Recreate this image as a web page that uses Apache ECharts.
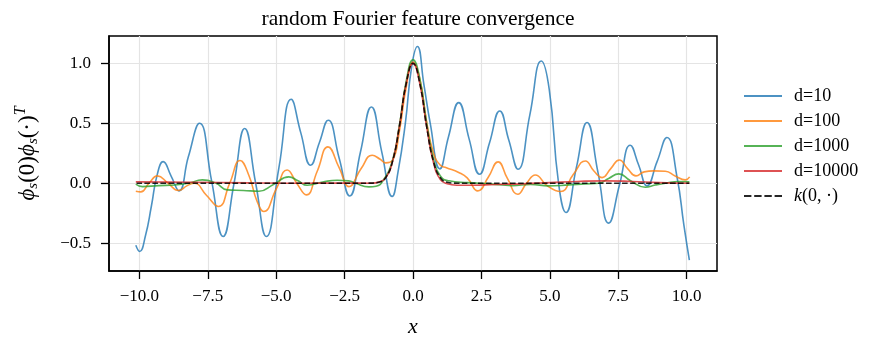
<!DOCTYPE html>
<html><head><meta charset="utf-8">
<script src="https://cdn.jsdelivr.net/npm/echarts@6/dist/echarts.min.js"></script>
<style>html,body{margin:0;padding:0;background:#fff}#c{width:874px;height:338px}</style>
</head><body><div id="c"></div>
<script>
// ---- data ----
const seriesNames = ['d=10', 'd=100', 'd=1000', 'd=10000', 'k(0, ·)'];

const d10 = [[-10.13,-0.517],[-9.99,-0.569],[-9.78,-0.44],[-9.56,-0.19],[-9.35,0.07],[-9.13,0.18],[-8.84,0.06],[-8.55,-0.064],[-8.21,0.22],[-7.80,0.50],[-7.36,0.02],[-6.94,-0.444],[-6.54,0.0],[-6.15,0.456],[-5.75,0.0],[-5.36,-0.444],[-4.90,0.13],[-4.45,0.70],[-4.10,0.42],[-3.74,0.15],[-3.42,0.34],[-3.10,0.525],[-2.70,0.21],[-2.31,-0.106],[-1.92,0.26],[-1.52,0.636],[-1.14,0.26],[-0.76,-0.11],[-0.55,0.09],[-0.28,0.50],[-0.05,0.97],[0.16,1.14],[0.40,0.82],[0.63,0.50],[0.98,0.12],[1.30,0.39],[1.67,0.672],[2.05,0.37],[2.43,0.075],[2.80,0.34],[3.17,0.603],[3.50,0.36],[3.84,0.117],[4.27,0.57],[4.69,1.019],[4.98,0.78],[5.32,0.0],[5.59,-0.244],[5.97,0.13],[6.36,0.506],[6.76,0.09],[7.15,-0.333],[7.55,-0.01],[7.94,0.317],[8.25,0.15],[8.55,-0.022],[8.92,0.18],[9.28,0.381],[9.65,0.05],[9.90,-0.35],[10.10,-0.642]];

const d100 = [[-10.13,-0.067],[-9.95,-0.072],[-9.65,0.0],[-9.34,0.061],[-8.95,0.0],[-8.57,-0.061],[-8.25,-0.02],[-8.00,0.0],[-7.55,-0.10],[-7.11,-0.194],[-6.70,0.0],[-6.32,0.19],[-5.99,0.06],[-5.70,-0.15],[-5.45,-0.236],[-5.00,-0.05],[-4.60,0.111],[-4.25,0.0],[-3.90,-0.097],[-3.50,0.10],[-3.11,0.303],[-2.70,0.13],[-2.34,-0.028],[-1.90,0.12],[-1.49,0.233],[-1.20,0.20],[-1.00,0.17],[-0.75,0.19],[-0.50,0.43],[-0.25,0.80],[0.00,1.01],[0.25,0.87],[0.50,0.51],[0.75,0.25],[1.00,0.15],[1.22,0.13],[1.67,0.09],[1.98,0.045],[2.37,-0.064],[2.75,0.05],[3.11,0.178],[3.45,0.04],[3.83,-0.092],[4.15,0.0],[4.47,0.069],[4.90,-0.02],[5.39,-0.069],[5.85,0.07],[6.30,0.186],[6.62,0.10],[6.91,0.047],[7.22,0.12],[7.54,0.194],[7.85,0.12],[8.15,0.061],[8.45,0.095],[8.80,0.103],[9.22,0.10],[9.58,0.061],[9.95,0.028],[10.11,0.053]];

const d1000 = [[-10.13,-0.008],[-9.89,-0.028],[-9.30,-0.02],[-8.70,-0.015],[-8.20,0.0],[-7.70,0.028],[-7.20,0.0],[-6.79,-0.055],[-6.20,-0.06],[-5.63,-0.067],[-5.10,-0.01],[-4.54,0.053],[-4.20,0.02],[-3.87,-0.017],[-3.30,0.01],[-2.77,0.025],[-2.35,0.02],[-2.10,0.0],[-1.61,-0.03],[-1.35,-0.025],[-1.10,0.02],[-0.75,0.19],[-0.50,0.48],[-0.25,0.85],[0.00,1.03],[0.25,0.87],[0.50,0.50],[0.75,0.20],[1.00,0.06],[1.31,0.02],[2.00,0.005],[2.80,-0.005],[3.62,-0.02],[4.30,-0.01],[4.96,-0.022],[5.69,-0.014],[6.30,-0.005],[6.79,0.0],[7.15,0.04],[7.52,0.078],[7.95,0.02],[8.49,-0.033],[8.85,-0.015],[9.22,0.0],[9.71,0.014],[10.10,0.011]];

const d10000 = [[-10.13,0.011],[-8.00,0.008],[-6.00,0.003],[-4.00,0.0],[-2.50,0.002],[-1.50,0.0],[-1.25,0.01],[-1.00,0.045],[-0.75,0.18],[-0.50,0.47],[-0.25,0.83],[0.00,1.0],[0.25,0.83],[0.50,0.47],[0.75,0.17],[1.00,0.03],[1.25,-0.005],[1.60,-0.017],[2.20,-0.017],[3.00,-0.01],[4.00,-0.005],[5.00,0.005],[6.00,0.015],[7.00,0.02],[8.00,0.015],[9.00,0.005],[10.10,0.0]];

const kernel = [[-10.10,0],[-2.00,0],[-1.50,0.001],[-1.25,0.008],[-1.00,0.046],[-0.75,0.18],[-0.50,0.47],[-0.25,0.83],[0.00,1.0],[0.25,0.83],[0.50,0.47],[0.75,0.18],[1.00,0.046],[1.25,0.008],[1.50,0.001],[2.00,0],[10.10,0]];

const xTicks = [-10, -7.5, -5, -2.5, 0, 2.5, 5, 7.5, 10];
const xTickLabels = ['−10.0', '−7.5', '−5.0', '−2.5', '0.0', '2.5', '5.0', '7.5', '10.0'];
const yTicks = [-0.5, 0, 0.5, 1.0];
const yTickLabels = ['−0.5', '0.0', '0.5', '1.0'];
const xRange = [-11.11, 11.11];
const yRange = [-0.732, 1.228];

// ---- chart ----
const FONT = "'Liberation Serif', 'DejaVu Serif', serif";
const colors = ['rgba(31,119,180,0.8)', 'rgba(255,127,14,0.8)', 'rgba(44,160,44,0.8)', 'rgba(214,39,40,0.8)', 'rgba(0,0,0,0.85)'];
const allData = [d10, d100, d1000, d10000, kernel];
const solidIcon = 'path://M0,0h38v2h-38z';
const dashIcon = 'path://M0,0h7.4v2h-7.4z M10.2,0h7.4v2h-7.4z M20.4,0h7.4v2h-7.4z M30.6,0h7.4v2h-7.4z';

const chart = echarts.init(document.getElementById('c'), null, {renderer: 'canvas'});
const axisCommon = {
  axisLine: {show: true, onZero: false, lineStyle: {color: '#000', width: 1.5}},
  splitLine: {show: true, lineStyle: {color: '#e4e4e4', width: 1.2}}
};
const tickStyle = {show: true, inside: false, length: 8, lineStyle: {color: '#000', width: 1.3}};
chart.setOption({
  animation: false,
  backgroundColor: '#fff',
  title: {
    text: 'random Fourier feature convergence',
    left: 413, top: 3, textAlign: 'center',
    textStyle: {fontFamily: FONT, fontWeight: 'normal', fontSize: 21.5, color: '#000'}
  },
  grid: {left: 109, right: 157, top: 36, bottom: 67, show: true, borderColor: '#000', borderWidth: 1.5,
    backgroundColor: 'transparent', containLabel: false, outerBoundsMode: 'none'},
  legend: {
    orient: 'vertical', left: 744, top: 87, padding: 0,
    itemWidth: 38, itemHeight: 2, itemGap: 7,
    data: seriesNames.map((n, i) => ({name: n, icon: i === 4 ? dashIcon : solidIcon})),
    itemStyle: {borderWidth: 0},
    textStyle: {fontFamily: FONT, fontSize: 18, lineHeight: 18, color: '#000', padding: [0, 0, 0, 7],
      rich: {i: {fontFamily: FONT, fontStyle: 'italic', fontSize: 18, lineHeight: 18}}},
    formatter: n => n === 'k(0, ·)' ? '{i|k}(0, ·)' : n
  },
  xAxis: Object.assign({
    type: 'value', min: xRange[0], max: xRange[1],
    name: 'x', nameLocation: 'middle', nameGap: 45,
    nameTextStyle: {fontFamily: FONT, fontStyle: 'italic', fontSize: 22, color: '#000'},
    axisTick: Object.assign({customValues: xTicks}, tickStyle),
    axisLabel: {customValues: xTicks, margin: 17, fontFamily: FONT, fontSize: 17, color: '#000',
      formatter: v => xTickLabels[xTicks.indexOf(v)]}
  }, axisCommon),
  yAxis: Object.assign({
    type: 'value', min: yRange[0], max: yRange[1],
    name: '{p|ϕ}{s|s}{n|(0)}{p|ϕ}{s|s}{n|(·)}{t|T}', nameLocation: 'middle', nameGap: 66, nameRotate: 90,
    nameTextStyle: {color: '#000', rich: {
      p: {fontFamily: FONT, fontStyle: 'italic', fontSize: 23, lineHeight: 30, verticalAlign: 'middle'},
      n: {fontFamily: FONT, fontSize: 23, lineHeight: 30, verticalAlign: 'middle'},
      s: {fontFamily: FONT, fontStyle: 'italic', fontSize: 15, lineHeight: 16, verticalAlign: 'bottom', padding: [0, 0, 2, 0]},
      t: {fontFamily: FONT, fontStyle: 'italic', fontSize: 16, lineHeight: 16, verticalAlign: 'top'}
    }},
    axisTick: Object.assign({customValues: yTicks}, tickStyle),
    axisLabel: {customValues: yTicks, margin: 18, fontFamily: FONT, fontSize: 17, color: '#000',
      formatter: v => yTickLabels[yTicks.indexOf(v)]}
  }, axisCommon),
  series: allData.map((d, i) => ({
    name: seriesNames[i], type: 'line', data: d, smooth: 0.5, symbol: 'none', showSymbol: false,
    lineStyle: {color: colors[i], width: 1.6, type: i === 4 ? [5.5, 2.5] : 'solid'},
    itemStyle: {color: colors[i]},
    z: 2 + i
  }))
});
</script></body></html>
